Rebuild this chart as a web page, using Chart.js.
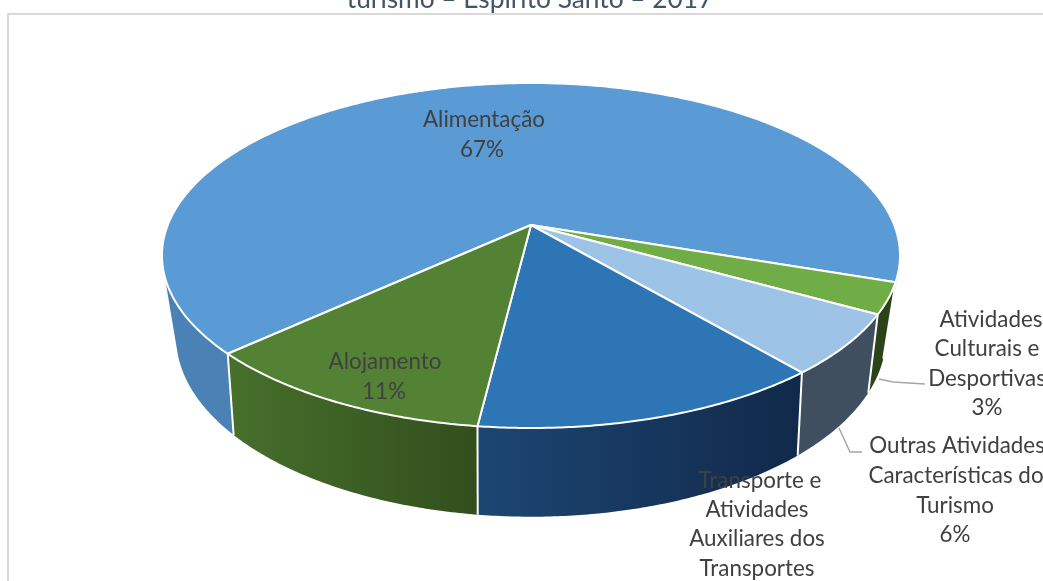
<!DOCTYPE html>
<html lang="pt">
<head>
<meta charset="utf-8">
<style>html,body{margin:0;padding:0;background:#fff;overflow:hidden}canvas{display:block}</style>
<script src="https://cdn.jsdelivr.net/npm/chart.js@4"></script>
</head>
<body>
<canvas id="c" width="1043" height="581"></canvas>
<script>
const categories = ['Alimentação','Atividades Culturais e Desportivas','Outras Atividades Características do Turismo','Transporte e Atividades Auxiliares dos Transportes','Alojamento'];
const values = [67.1,2.9,5.7,13.1,11.2];
const labelLines = [
  ['Alimentação','67%'],
  ['Atividades','Culturais e','Desportivas','3%'],
  ['Outras Atividades','Características do','Turismo','6%'],
  ['Transporte e','Atividades','Auxiliares dos','Transportes'],
  ['Alojamento','11%']
];
const titleText = 'turismo – Espírito Santo – 2017';
const topColors = ['#5B9BD5','#70AD47','#9DC3E6','#2E75B6','#548235'];
const sideLeft  = ['#4B82B5','#2B4318','#3F4F5F','#1C4672','#47702B'];
const sideRight = ['#4B82B5','#2B4318','#3F4F5F','#11294A','#324E1D'];

// Layout (not data)
const TOP = {cx:531, c:225, a:363.2, b:167.1, p:0.1768};
const BOT = {cx:531, c:299, a:347, b:172, p:0.21};
const labelPos = [
  [{x:484,y:119.5},{x:482,y:149.5}],
  [{x:991,y:319.5},{x:987,y:348.5},{x:987,y:378.5},{x:987,y:407.5}],
  [{x:957,y:445.5},{x:956,y:475.5},{x:955,y:505.5},{x:955,y:534.5}],
  [{x:760,y:480.5},{x:757,y:509.5},{x:757,y:538.5},{x:757,y:568.5}],
  [{x:385,y:361.5},{x:384,y:391.5}]
];
const leaders = [
  [[879,379],[893,382],[925,384]],
  [[839,428],[850,452],[862,452]]
];
const project = (P,t) => {
  const u=Math.cos(t), v=Math.sin(t), w=1-P.p*v;
  return {x:P.cx+P.a*u/w, y:P.c+P.b*v/w};
};
const deg = d => d*Math.PI/180;
const tracePts = (ctx,P,a0,a1,first) => {
  const n=Math.max(8,Math.ceil(Math.abs(a1-a0)/deg(0.5)));
  for(let i=0;i<=n;i++){
    const p=project(P,a0+(a1-a0)*i/n);
    if(i===0&&first) ctx.moveTo(p.x,p.y); else ctx.lineTo(p.x,p.y);
  }
};
const pie3d = {
  id:'pie3d',
  beforeDraw(chart){
    const ctx=chart.ctx;
    ctx.save();
    ctx.strokeStyle='#D9D9D9'; ctx.lineWidth=2;
    ctx.beginPath(); ctx.moveTo(8,581); ctx.lineTo(8,14); ctx.lineTo(1043,14); ctx.stroke();
    ctx.restore();
  },
  beforeDatasetsDraw(chart){
    const ctx=chart.ctx, arcs=chart.getDatasetMeta(0).data;
    ctx.save();
    ctx.lineJoin='round';
    const side=(i,a0,a1)=>{
      const s=project(TOP,a0), e=project(TOP,a1);
      const x0=Math.min(s.x,e.x), x1=Math.max(s.x,e.x);
      const g=ctx.createLinearGradient(x0,0,x1,0);
      g.addColorStop(0,sideLeft[i]); g.addColorStop(1,sideRight[i]);
      ctx.beginPath();
      tracePts(ctx,TOP,a0,a1,true);
      tracePts(ctx,BOT,a1,a0,false);
      ctx.closePath();
      ctx.fillStyle=g; ctx.fill();
    };
    const seam=a=>{
      const s=project(TOP,a), e=project(BOT,a);
      ctx.beginPath(); ctx.moveTo(s.x,s.y); ctx.lineTo(e.x,e.y);
      ctx.strokeStyle='#fff'; ctx.lineWidth=2; ctx.stroke();
    };
    const ang=arcs.map(a=>a.getProps(['startAngle','endAngle'],true));
    // sides: the first slice wraps the back, only its two visible ends are extruded
    side(0,ang[0].startAngle,deg(163));
    side(0,ang[0].endAngle-deg(5),ang[0].endAngle);
    for(let i=1;i<arcs.length;i++) side(i,ang[i].startAngle,ang[i].endAngle);
    for(let i=1;i<arcs.length;i++) seam(ang[i].startAngle);
    seam(ang[0].startAngle);
    // top faces
    const apex={x:TOP.cx,y:TOP.c};
    arcs.forEach((a,i)=>{
      ctx.beginPath(); ctx.moveTo(apex.x,apex.y);
      tracePts(ctx,TOP,ang[i].startAngle,ang[i].endAngle,false);
      ctx.closePath();
      ctx.fillStyle=topColors[i]; ctx.fill();
      ctx.strokeStyle='#fff'; ctx.lineWidth=2; ctx.stroke();
    });
    ctx.restore();
    return false;
  },
  afterDraw(chart){
    const ctx=chart.ctx;
    ctx.save();
    ctx.strokeStyle='#A6A6A6'; ctx.lineWidth=1.5;
    leaders.forEach(l=>{ctx.beginPath();l.forEach((p,i)=>i?ctx.lineTo(p[0],p[1]):ctx.moveTo(p[0],p[1]));ctx.stroke();});
    ctx.fillStyle='#404040';
    ctx.font='22.4px Lato'; ctx.textAlign='center'; ctx.textBaseline='middle';
    labelLines.forEach((ls,i)=>ls.forEach((t,j)=>ctx.fillText(t,labelPos[i][j].x,labelPos[i][j].y)));
    ctx.font='26.3px Lato'; ctx.fillStyle='#44546A';
    ctx.fillText(titleText,530,0);
    ctx.restore();
  }
};
new Chart(document.getElementById('c'),{
  type:'pie',
  data:{labels:categories,datasets:[{data:values,backgroundColor:topColors,borderColor:'#fff',borderWidth:2}]},
  options:{
    responsive:false,animation:false,rotation:227.3,
    plugins:{legend:{display:false},title:{display:false},tooltip:{enabled:false}}
  },
  plugins:[pie3d]
});
</script>
</body>
</html>
